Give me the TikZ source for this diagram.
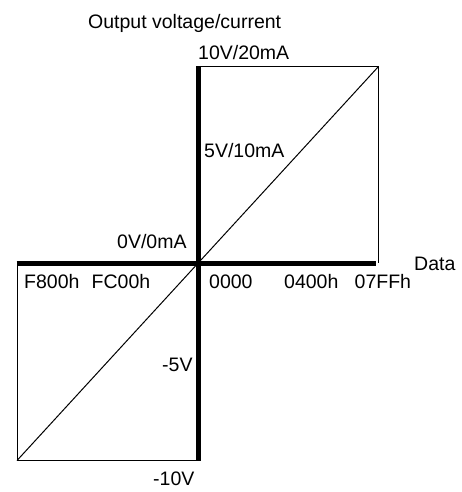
\documentclass[tikz,border=0pt]{standalone}
\usepackage{fontspec}
\setmainfont{Liberation Sans}
\begin{document}
\begin{tikzpicture}[x=1pt,y=-1pt,
  lbl/.style={inner sep=0pt,anchor=base west,font=\fontsize{19.5}{22}\selectfont},
  axis/.style={line width=5pt},
  thin/.style={line width=1pt}]
\useasboundingbox (0,0) rectangle (462,492);
\coordinate (O) at (198,263.5);
\coordinate (top) at (198,66.5);
\coordinate (bot) at (198,461);
\coordinate (left) at (16.5,263.5);
\coordinate (right) at (376,263.5);
\coordinate (TR) at (378.5,66.5);
\coordinate (RB) at (378.5,263);
\coordinate (BL) at (17,460.5);
\coordinate (LB) at (17,263.5);
\coordinate (BB) at (198,460.5);
% thin square lines and diagonal
\draw[thin] (top) -- (TR) -- (RB);
\draw[thin] (LB) -- (BL) -- (BB);
\draw[thin] (BL) -- (TR);
% thick axes
\draw[axis] (top) -- (bot);
\draw[axis] (left) -- (right);
% labels
\node[lbl] (title) at (88,28.3) {Output voltage/current};
\node[lbl] (l10) at (198,60) {10V/20mA};
\node[lbl] (l5) at (204,157.7) {5V/10mA};
\node[lbl] (l0) at (117,248) {0V/0mA};
\node[lbl] (data) at (414,270) {Data};
\node[lbl] (f800) at (24,288) {F800h};
\node[lbl] (fc00) at (91.5,288) {FC00h};
\node[lbl] (z) at (209,288) {0000};
\node[lbl] (h400) at (284,288) {0400h};
\node[lbl] (h7ff) at (354.5,288) {07FFh};
\node[lbl] (m5) at (162,371) {-5V};
\node[lbl] (m10) at (153,485) {-10V};
\end{tikzpicture}
\end{document}
